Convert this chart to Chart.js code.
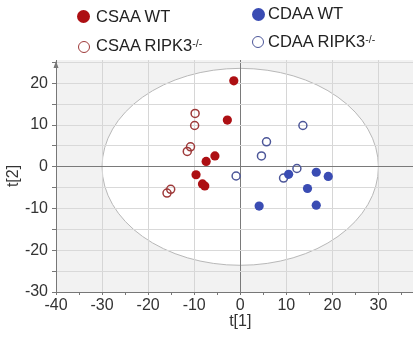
<!DOCTYPE html>
<html>
<head>
<meta charset="utf-8">
<script src="https://cdn.jsdelivr.net/npm/chart.js@4.4.0/dist/chart.umd.min.js"></script>
<style>
  html, body { margin: 0; padding: 0; background: #fff; overflow: hidden; }
  #wrap { position: relative; width: 413px; height: 337px; overflow: hidden; }
  #wrap canvas { position: absolute; left: 0; top: 0; }
  .lg { position: absolute; font: 16.5px "Liberation Sans", Arial, sans-serif; color: #222;
        white-space: nowrap; line-height: 16px; }
  .lg sup { font-size: 10.5px; vertical-align: 4px; line-height: 0; }
  .mk { position: absolute; border-radius: 50%; box-sizing: border-box; }
</style>
</head>
<body>
<div id="wrap">
  <canvas id="scores" width="430" height="337" style="width:430px;height:337px"></canvas>
</div>
<script>
// --- data (t[1], t[2]) ---
const csaaWtX = [-1.4, -2.8, -5.5, -7.4, -9.6, -8.2, -7.7];
const csaaWtY = [20.6, 11.2, 2.6, 1.3, -1.9, -4.1, -4.6];
const csaaKoX = [-9.8, -9.9, -10.8, -11.5, -15.1, -15.9];
const csaaKoY = [12.8, 9.9, 4.8, 3.7, -5.4, -6.3];
const cdaaWtX = [10.5, 16.5, 19.1, 14.6, 4.1, 16.5];
const cdaaWtY = [-1.8, -1.3, -2.3, -5.2, -9.4, -9.2];
const cdaaKoX = [13.6, 5.7, 4.6, 12.3, 9.4, -0.9];
const cdaaKoY = [9.9, 6.0, 2.6, -0.4, -2.7, -2.2];

const seriesNames = ['CSAA WT', 'CSAA RIPK3', 'CDAA WT', 'CDAA RIPK3'];
const seriesSup = ['', '-/-', '', '-/-'];
const ellipseRadius = [30, 23.6];   // Hotelling T2 ellipse (t[1], t[2])
const xTicks = [-40, -30, -20, -10, 0, 10, 20, 30];
const yTicks = [-30, -20, -10, 0, 10, 20];

const RED = '#ad0f13', RED_OPEN = '#9e3a3a';
const BLUE = '#3a4cb3', BLUE_OPEN = '#4d5799';

const toPoints = (xs, ys) => xs.map((x, i) => ({ x: x, y: ys[i] }));

const styles = [
  { fill: true, color: RED },
  { fill: false, color: RED_OPEN },
  { fill: true, color: BLUE },
  { fill: false, color: BLUE_OPEN }
];
const allData = [
  toPoints(csaaWtX, csaaWtY),
  toPoints(csaaKoX, csaaKoY),
  toPoints(cdaaWtX, cdaaWtY),
  toPoints(cdaaKoX, cdaaKoY)
];

// grey plot background + white ellipse, arrow on top of y axis
const ellipseBg = {
  id: 'ellipseBg',
  beforeDraw(chart) {
    const { ctx, chartArea: a, scales: { x, y } } = chart;
    ctx.save();
    ctx.fillStyle = '#f2f2f2';
    ctx.fillRect(a.left, a.top, a.width, a.height);
    const cx = x.getPixelForValue(0), cy = y.getPixelForValue(0);
    const rx = x.getPixelForValue(ellipseRadius[0]) - cx;
    const ry = cy - y.getPixelForValue(ellipseRadius[1]);
    ctx.beginPath();
    ctx.ellipse(cx, cy, rx, ry, 0, 0, Math.PI * 2);
    ctx.fillStyle = '#fff';
    ctx.fill();
    ctx.strokeStyle = '#b8b8b8';
    ctx.lineWidth = 1;
    ctx.stroke();
    ctx.restore();
  },
  afterDraw(chart) {
    const { ctx, chartArea: a } = chart;
    ctx.save();
    ctx.fillStyle = '#777';
    ctx.beginPath();
    ctx.moveTo(a.left, a.top + 1);
    ctx.lineTo(a.left - 2.5, a.top + 8);
    ctx.lineTo(a.left + 2.5, a.top + 8);
    ctx.closePath();
    ctx.fill();
    ctx.restore();
  }
};

const tickFont = { family: '"Liberation Sans", Arial, sans-serif', size: 16 };

new Chart(document.getElementById('scores'), {
  type: 'scatter',
  data: {
    datasets: allData.map((pts, i) => ({
      label: seriesNames[i],
      data: pts,
      pointRadius: styles[i].fill ? 4.6 : 4,
      pointBorderWidth: styles[i].fill ? 0 : 1.5,
      pointBackgroundColor: styles[i].fill ? styles[i].color : 'rgba(255,255,255,0)',
      pointBorderColor: styles[i].color
    }))
  },
  options: {
    responsive: false,
    animation: false,
    layout: { padding: { top: 60, right: 3, bottom: 0, left: 0 } },
    plugins: { legend: { display: false }, tooltip: { enabled: false } },
    scales: {
      x: {
        min: -40, max: 40,
        afterFit: s => { s.height = 45; },
        border: { color: '#777' },
        grid: {
          color: c => c.tick.value === 0 ? '#7a7a7a' : (c.tick.value % 10 === 0 ? '#d6d6d6' : 'rgba(0,0,0,0)'),
          tickColor: '#777',
          tickLength: 3
        },
        ticks: {
          stepSize: 5, autoSkip: false, maxRotation: 0, padding: 1,
          color: '#333', font: tickFont,
          callback: v => xTicks.includes(v) ? v : ''
        },
        title: { display: true, text: 't[1]', color: '#333', font: tickFont, padding: { top: 0, bottom: 6 } }
      },
      y: {
        min: -30, max: 25.6,
        afterFit: s => { s.width = 56; },
        border: { color: '#777' },
        grid: {
          color: c => c.tick.value === 0 ? '#7a7a7a' : '#d9d9d9',
          tickColor: '#777',
          tickLength: 4
        },
        ticks: {
          stepSize: 5, includeBounds: false, autoSkip: false, padding: 4,
          color: '#333', font: tickFont,
          callback: v => yTicks.includes(v) ? v : ''
        },
        title: { display: true, text: 't[2]', color: '#333', font: tickFont, padding: { top: 4, bottom: 0 } }
      }
    }
  },
  plugins: [ellipseBg]
});

// legend (2 x 2), text as real HTML so the superscript can be kept
const legendPos = [
  { mx: 83, my: 16, tx: 96, ty: 16 },
  { mx: 84, my: 47, tx: 96, ty: 45 },
  { mx: 258, my: 14, tx: 268, ty: 12.5 },
  { mx: 258, my: 42, tx: 268, ty: 40.5 }
];
const wrap = document.getElementById('wrap');
seriesNames.forEach((name, i) => {
  const p = legendPos[i], st = styles[i];
  const mk = document.createElement('span');
  mk.className = 'mk';
  const d = st.fill ? 13 : 12.5;
  mk.style.width = d + 'px';
  mk.style.height = d + 'px';
  mk.style.left = (p.mx - d / 2) + 'px';
  mk.style.top = (p.my - d / 2) + 'px';
  if (st.fill) mk.style.background = st.color;
  else mk.style.border = '1.3px solid ' + st.color;
  wrap.appendChild(mk);

  const tx = document.createElement('span');
  tx.className = 'lg';
  tx.style.left = p.tx + 'px';
  tx.style.top = (p.ty - 8) + 'px';
  tx.textContent = name;
  if (seriesSup[i]) {
    const sup = document.createElement('sup');
    sup.textContent = seriesSup[i];
    tx.appendChild(sup);
  }
  wrap.appendChild(tx);
});
</script>
</body>
</html>
